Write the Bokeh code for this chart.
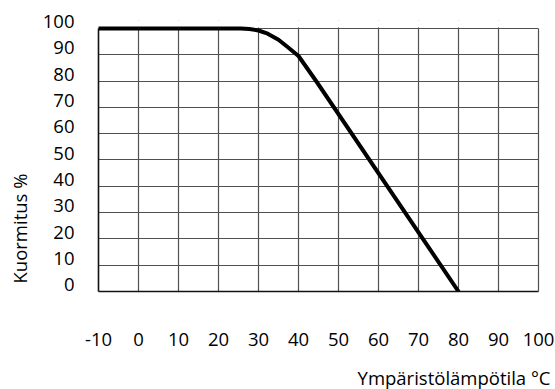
from bokeh.plotting import figure
from bokeh.models import Range1d, LinearAxis, FixedTicker, Title, BoxAnnotation
from bokeh.embed import file_html
from bokeh.resources import INLINE

# Data (derating curve)
temp = [-10, 25.6, 27.7, 30, 32.3, 35, 37.2, 40, 44.4, 80]
load = [100, 100, 99.8, 99.2, 98.0, 95.7, 93.0, 89.5, 80, 0]

x_ticks = [-10, 0, 10, 20, 30, 40, 50, 60, 70, 80, 90, 100]
y_ticks = [0, 10, 20, 30, 40, 50, 60, 70, 80, 90, 100]

FONT = "Open Sans"
FS = "18.5px"
Y_TOP = 103          # frame reaches a little above 100 so the "100" label fits
LABEL_SHIFT = 2.6    # tick labels sit just above their grid lines

p = figure(width=555, height=411, output_backend="svg", toolbar_location=None,
           x_range=Range1d(-10, 100), y_range=Range1d(0, Y_TOP),
           x_axis_location=None, y_axis_location=None,
           min_border_left=97, min_border_right=17, min_border_top=20, min_border_bottom=120)
p.extra_y_ranges = {"lab": Range1d(-LABEL_SHIFT, Y_TOP - LABEL_SHIFT)}
p.outline_line_color = None
p.background_fill_color = "white"
p.border_fill_color = "white"

# Grid
p.xgrid.ticker = FixedTicker(ticks=x_ticks)
p.ygrid.ticker = FixedTicker(ticks=y_ticks)
for g in (p.xgrid, p.ygrid):
    g.grid_line_color = "#505050"
    g.grid_line_width = 1.2

# hide the grid above the 100 % line
p.add_layout(BoxAnnotation(bottom=100.3, fill_color="white", fill_alpha=1.0,
                           line_color=None, level="underlay"))


def bare(axis):
    axis.major_tick_line_color = None
    axis.minor_tick_line_color = None
    axis.major_tick_out = 0
    axis.major_tick_in = 0
    axis.minor_tick_out = 0
    axis.minor_tick_in = 0


# Bottom axis: line + labels far below
xa = LinearAxis(ticker=FixedTicker(ticks=x_ticks))
bare(xa)
xa.axis_line_color = "#111111"
xa.axis_line_width = 1.6
xa.major_label_standoff = 41
xa.major_label_text_font = FONT
xa.major_label_text_font_size = FS
xa.major_label_text_color = "black"
xa.major_label_overrides = {-10: "-10"}
p.add_layout(xa, "below")

# Left border line
la = LinearAxis(ticker=FixedTicker(ticks=[]), bounds=(0, 100))
bare(la)
la.major_label_standoff = 0
la.major_label_text_font_size = "0px"
la.axis_line_color = "#111111"
la.axis_line_width = 1.6
p.add_layout(la, "left")

# Left labels (slightly raised)
ya = LinearAxis(ticker=FixedTicker(ticks=y_ticks), y_range_name="lab")
bare(ya)
ya.axis_line_color = None
ya.major_label_standoff = 24
ya.major_label_text_font = FONT
ya.major_label_text_font_size = FS
ya.major_label_text_color = "black"
p.add_layout(ya, "left")

# Right border
ra = LinearAxis(ticker=FixedTicker(ticks=[]), bounds=(0, 100))
bare(ra)
ra.major_label_standoff = 0
ra.major_label_text_font_size = "0px"
ra.axis_line_color = "#505050"
ra.axis_line_width = 1.2
p.add_layout(ra, "right")

# Curve
p.line(temp, load, line_color="black", line_width=4, line_join="round", line_cap="round")

# Axis titles
yt = Title(text="Kuormitus %", align="left", offset=8, vertical_align="top", text_font=FONT,
           text_font_size=FS, text_font_style="normal", text_color="black", standoff=12)
p.add_layout(yt, "left")
xt = Title(text="Ympäristölämpötila °C", align="right", offset=-12, text_font=FONT,
           text_font_size=FS, text_font_style="normal", text_color="black", standoff=28)
p.add_layout(xt, "below")

open("out.html", "w").write(file_html(p, INLINE))
